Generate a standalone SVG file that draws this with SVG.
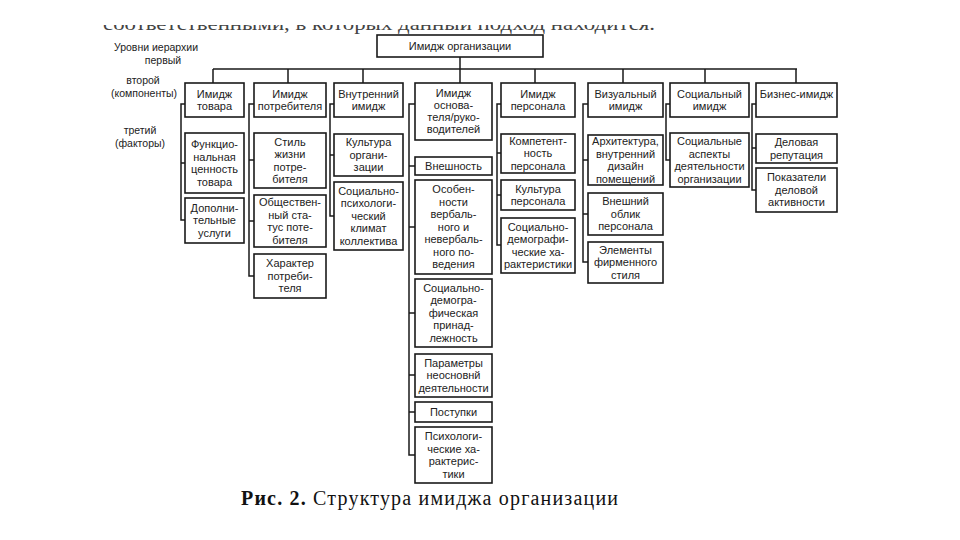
<svg xmlns="http://www.w3.org/2000/svg" width="960" height="540" viewBox="0 0 960 540">
<style>
.b{fill:#fff;stroke:#1a1a1a;stroke-width:1.6}
.t{font-family:"Liberation Sans",Arial,sans-serif;font-size:11px;fill:#222;text-anchor:middle}
.l{font-family:"Liberation Sans",Arial,sans-serif;font-size:10.5px;fill:#222;text-anchor:middle}
.c{fill:none;stroke:#1a1a1a;stroke-width:1.5}
</style>
<defs><clipPath id="cut"><rect x="0" y="25" width="960" height="16"/></clipPath></defs>
<rect width="960" height="540" fill="#fff"/>
<text clip-path="url(#cut)" x="103" y="30" textLength="552" lengthAdjust="spacingAndGlyphs" font-family="Liberation Serif,serif" font-size="18" fill="#444">соответственными, в которых данный подход находится.</text>

<g id="levels">
<text class="l" x="156" y="51">Уровни иерархии</text>
<text class="l" x="163" y="64">первый</text>
<text class="l" x="143" y="84">второй</text>
<text class="l" x="144" y="97">(компоненты)</text>
<text class="l" x="140" y="134">третий</text>
<text class="l" x="140" y="147">(факторы)</text>
</g>

<g id="connectors">
<path class="c" d="M460 57V69M213 69H797M213 69V83M288 69V83M363 69V83M460 69V83M535 69V83M623 69V83M705 69V83M796 69V83"/>
<path class="c" d="M185 104H181V220H185M181 163H185"/>
<path class="c" d="M254 104H249V276H254M249 160H254M249 221H254"/>
<path class="c" d="M334 104H330V216H334M330 155H334"/>
<path class="c" d="M415 104H409V455H415M409 166H415M409 227H415M409 313H415M409 375H415M409 412H415"/>
<path class="c" d="M501 104H497V245H501M497 153H501M497 195H501"/>
<path class="c" d="M588 104H583V262H588M583 160H588M583 214H588"/>
<path class="c" d="M670 104H666V160H670"/>
<path class="c" d="M756 104H752V190H756M752 148H756"/>
</g>

<g id="root"><rect class="b" x="377" y="35" width="166" height="22"/><text class="t" x="460" y="50">Имидж организации</text></g>

<g id="c1">
<rect class="b" x="185" y="83" width="59" height="34"/><text class="t" x="214.5" y="97.5">Имидж<tspan x="214.5" dy="12.5">товара</tspan></text>
</g>
<g id="c1a"><rect class="b" x="185" y="133" width="59" height="60"/><text class="t" x="214.5" y="148">Функцио-<tspan x="214.5" dy="12.5">нальная</tspan><tspan x="214.5" dy="12.5">ценность</tspan><tspan x="214.5" dy="12.5">товара</tspan></text></g>
<g id="c1b"><rect class="b" x="185" y="198" width="59" height="45"/><text class="t" x="214.5" y="211.8">Дополни-<tspan x="214.5" dy="12.5">тельные</tspan><tspan x="214.5" dy="12.5">услуги</tspan></text></g>

<g id="c2"><rect class="b" x="254" y="83" width="72" height="34"/><text class="t" x="290" y="97.5">Имидж<tspan x="290" dy="12.5">потребителя</tspan></text></g>
<g id="c2a"><rect class="b" x="254" y="133" width="72" height="55"/><text class="t" x="290" y="145.5">Стиль<tspan x="290" dy="12.5">жизни</tspan><tspan x="290" dy="12.5">потре-</tspan><tspan x="290" dy="12.5">бителя</tspan></text></g>
<g id="c2b"><rect class="b" x="254" y="195" width="72" height="52"/><text class="t" x="290" y="206">Обществен-<tspan x="290" dy="12.5">ный ста-</tspan><tspan x="290" dy="12.5">тус поте-</tspan><tspan x="290" dy="12.5">бителя</tspan></text></g>
<g id="c2c"><rect class="b" x="254" y="254" width="72" height="44"/><text class="t" x="290" y="267.3">Характер<tspan x="290" dy="12.5">потреби-</tspan><tspan x="290" dy="12.5">теля</tspan></text></g>

<g id="c3"><rect class="b" x="334" y="83" width="69" height="34"/><text class="t" x="368.5" y="97.5">Внутренний<tspan x="368.5" dy="12.5">имидж</tspan></text></g>
<g id="c3a"><rect class="b" x="334" y="134" width="69" height="42"/><text class="t" x="368.5" y="146.3">Культура<tspan x="368.5" dy="12.5">органи-</tspan><tspan x="368.5" dy="12.5">зации</tspan></text></g>
<g id="c3b"><rect class="b" x="334" y="182" width="69" height="68"/><text class="t" x="368.5" y="194.8">Социально-<tspan x="368.5" dy="12.5">психологи-</tspan><tspan x="368.5" dy="12.5">ческий</tspan><tspan x="368.5" dy="12.5">климат</tspan><tspan x="368.5" dy="12.5">коллектива</tspan></text></g>

<g id="c4"><rect class="b" x="415" y="83" width="77" height="57"/><text class="t" x="453.5" y="97">Имидж<tspan x="453.5" dy="12">основа-</tspan><tspan x="453.5" dy="12">теля/руко-</tspan><tspan x="453.5" dy="12">водителей</tspan></text></g>
<g id="c4a"><rect class="b" x="415" y="157" width="77" height="18"/><text class="t" x="453.5" y="169.8">Внешность</text></g>
<g id="c4b"><rect class="b" x="415" y="180" width="77" height="94"/><text class="t" x="453.5" y="193.3">Особен-<tspan x="453.5" dy="12.5">ности</tspan><tspan x="453.5" dy="12.5">вербаль-</tspan><tspan x="453.5" dy="12.5">ного и</tspan><tspan x="453.5" dy="12.5">невербаль-</tspan><tspan x="453.5" dy="12.5">ного по-</tspan><tspan x="453.5" dy="12.5">ведения</tspan></text></g>
<g id="c4c"><rect class="b" x="415" y="279" width="77" height="68"/><text class="t" x="453.5" y="291.8">Социально-<tspan x="453.5" dy="12.5">демогра-</tspan><tspan x="453.5" dy="12.5">фическая</tspan><tspan x="453.5" dy="12.5">принад-</tspan><tspan x="453.5" dy="12.5">лежность</tspan></text></g>
<g id="c4d"><rect class="b" x="415" y="354" width="77" height="43"/><text class="t" x="453.5" y="366.8">Параметры<tspan x="453.5" dy="12.5">неосновнй</tspan><tspan x="453.5" dy="12.5">деятельности</tspan></text></g>
<g id="c4e"><rect class="b" x="415" y="402" width="77" height="20"/><text class="t" x="453.5" y="415.8">Поступки</text></g>
<g id="c4f"><rect class="b" x="415" y="427" width="77" height="56"/><text class="t" x="453.5" y="440">Психологи-<tspan x="453.5" dy="12.5">ческие ха-</tspan><tspan x="453.5" dy="12.5">рактерис-</tspan><tspan x="453.5" dy="12.5">тики</tspan></text></g>

<g id="c5"><rect class="b" x="501" y="83" width="74" height="34"/><text class="t" x="538" y="97.5">Имидж<tspan x="538" dy="12.5">персонала</tspan></text></g>
<g id="c5a"><rect class="b" x="501" y="134" width="74" height="39"/><text class="t" x="538" y="144.8">Компетент-<tspan x="538" dy="12.5">ность</tspan><tspan x="538" dy="12.5">персонала</tspan></text></g>
<g id="c5b"><rect class="b" x="501" y="180" width="74" height="30"/><text class="t" x="538" y="192.5">Культура<tspan x="538" dy="12.5">персонала</tspan></text></g>
<g id="c5c"><rect class="b" x="501" y="218" width="74" height="55"/><text class="t" x="538" y="230.5">Социально-<tspan x="538" dy="12.5">демографи-</tspan><tspan x="538" dy="12.5">ческие ха-</tspan><tspan x="538" dy="12.5">рактеристики</tspan></text></g>

<g id="c6"><rect class="b" x="588" y="83" width="75" height="34"/><text class="t" x="625.5" y="97.5">Визуальный<tspan x="625.5" dy="12.5">имидж</tspan></text></g>
<g id="c6a"><rect class="b" x="588" y="135" width="75" height="50"/><text class="t" x="625.5" y="145">Архитектура,<tspan x="625.5" dy="12.5">внутренний</tspan><tspan x="625.5" dy="12.5">дизайн</tspan><tspan x="625.5" dy="12.5">помещений</tspan></text></g>
<g id="c6b"><rect class="b" x="588" y="193" width="75" height="42"/><text class="t" x="625.5" y="205.3">Внешний<tspan x="625.5" dy="12.5">облик</tspan><tspan x="625.5" dy="12.5">персонала</tspan></text></g>
<g id="c6c"><rect class="b" x="588" y="242" width="75" height="41"/><text class="t" x="625.5" y="253.8">Элементы<tspan x="625.5" dy="12.5">фирменного</tspan><tspan x="625.5" dy="12.5">стиля</tspan></text></g>

<g id="c7"><rect class="b" x="670" y="83" width="79" height="34"/><text class="t" x="709.5" y="97.5">Социальный<tspan x="709.5" dy="12.5">имидж</tspan></text></g>
<g id="c7a"><rect class="b" x="670" y="133" width="79" height="54"/><text class="t" x="709.5" y="145">Социальные<tspan x="709.5" dy="12.5">аспекты</tspan><tspan x="709.5" dy="12.5">деятельности</tspan><tspan x="709.5" dy="12.5">организации</tspan></text></g>

<g id="c8"><rect class="b" x="756" y="83" width="81" height="34"/><text class="t" x="796.5" y="97.5">Бизнес-имидж</text></g>
<g id="c8a"><rect class="b" x="756" y="134" width="81" height="29"/><text class="t" x="796.5" y="146">Деловая<tspan x="796.5" dy="12.5">репутация</tspan></text></g>
<g id="c8b"><rect class="b" x="756" y="168" width="81" height="44"/><text class="t" x="796.5" y="181.3">Показатели<tspan x="796.5" dy="12.5">деловой</tspan><tspan x="796.5" dy="12.5">активности</tspan></text></g>

<text x="241" y="505" textLength="377" lengthAdjust="spacing" font-family="Liberation Serif,serif" font-size="20" fill="#111"><tspan font-weight="bold">Рис. 2.</tspan> Структура имиджа организации</text>
</svg>
